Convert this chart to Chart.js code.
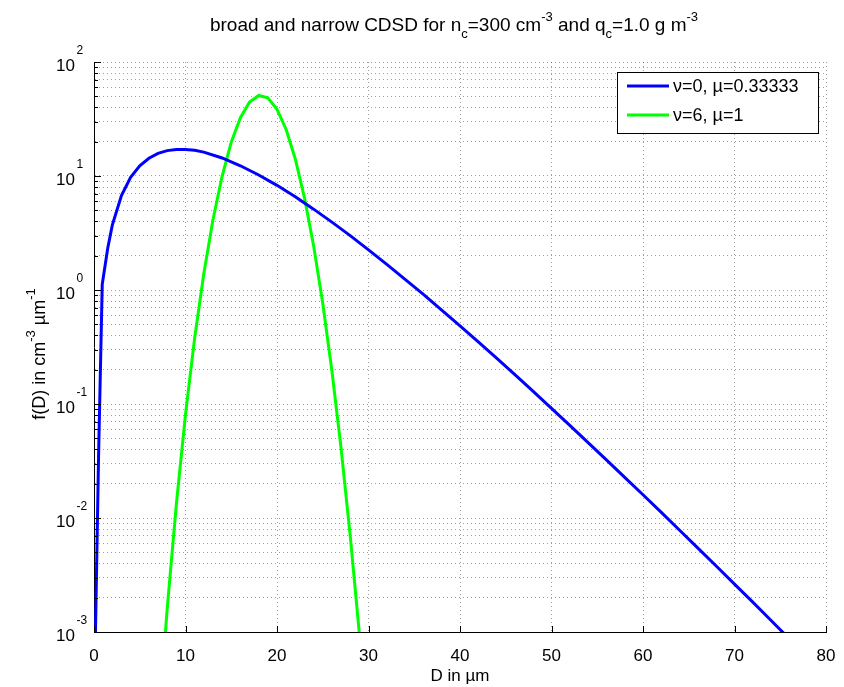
<!DOCTYPE html>
<html>
<head>
<meta charset="utf-8">
<script src="https://cdn.jsdelivr.net/npm/chart.js@4.4.0/dist/chart.umd.min.js"></script>
<style>
  html, body { margin: 0; padding: 0; background: #fff; }
  canvas { display: block; }
</style>
</head>
<body>
<canvas id="chart" width="844" height="687"></canvas>
<script>
// broad CDSD (nu=0, mu=1/3): D in um, f(D) in cm^-3 um^-1
const diameterBroad = [0.15, 0.5, 0.9, 1.5, 2, 3, 4, 5, 6, 7, 8, 9, 10, 11, 12, 14, 16, 18, 20,
  22, 24, 26, 28, 30, 32, 34, 36, 38, 40, 42, 44, 46, 48, 50, 52, 54, 56, 58, 60,
  62, 64, 66, 68, 70, 72, 74, 76];
const fBroad = [0.0009, 0.035, 1.12, 2.32, 3.71, 6.75, 9.72, 12.3, 14.3, 15.8, 16.7, 17.1, 17.1, 16.8, 16.2, 14.4, 12.3, 10.2, 8.28,
  6.57, 5.12, 3.94, 3.00, 2.25, 1.68, 1.24, 0.914, 0.667, 0.485, 0.350, 0.252, 0.181, 0.129, 0.0916, 0.0650, 0.0459, 0.0323, 0.0227, 0.0160,
  0.0112, 0.00781, 0.00544, 0.00379, 0.00263, 0.00183, 0.00126, 0.00087];

// narrow CDSD (nu=6, mu=1)
const diameterNarrow = [7, 8, 9, 10, 11, 12, 13, 14, 15, 16, 17, 18, 19, 20, 21, 22, 23, 24, 25, 26, 27, 28, 29, 30];
const fNarrow = [0.000133, 0.0016, 0.0132, 0.081, 0.379, 1.39, 4.13, 9.95, 19.8, 32.5, 44.5, 50.9, 48.5, 38.5,
  25.6, 14.1, 6.46, 2.45, 0.764, 0.196, 0.0411, 0.00701, 0.00097, 0.000108];

const seriesLabels = ['\u03bd=0, \u00b5=0.33333', '\u03bd=6, \u00b5=1'];
const seriesColors = ['#0000ff', '#00ff00'];
const xTicks = [0, 10, 20, 30, 40, 50, 60, 70, 80];
const yDecades = [-3, -2, -1, 0, 1, 2];
const yMinor = [2, 3, 4, 5, 6, 7, 8, 9];

const FONT = "'Liberation Sans', Arial, Helvetica, sans-serif";
const gridColor = 'rgba(0,0,0,0.38)';

// text made of normal / sup / sub pieces
function richWidth(ctx, parts, size) {
  let w = 0;
  parts.forEach(p => {
    ctx.font = (p[1] ? Math.round(size * 0.7) : size) + 'px ' + FONT;
    w += ctx.measureText(p[0]).width;
  });
  return w;
}
function drawRich(ctx, parts, x, y, size) {
  parts.forEach(p => {
    const small = Math.round(size * 0.7);
    ctx.font = (p[1] ? small : size) + 'px ' + FONT;
    let dy = 0;
    if (p[1] === 'sup') dy = -size * 0.55;
    if (p[1] === 'sub') dy = size * 0.35;
    ctx.fillText(p[0], x, y + dy);
    x += ctx.measureText(p[0]).width;
  });
}

const titleParts = [['broad and narrow CDSD for n'], ['c', 'sub'], ['=300 cm'], ['-3', 'sup'],
  [' and q'], ['c', 'sub'], ['=1.0 g m'], ['-3', 'sup']];
const yTitleParts = [['f(D) in cm'], ['-3', 'sup'], [' \u00b5m'], ['-1', 'sup']];

const decorations = {
  id: 'decorations',
  afterDraw(chart) {
    const { ctx, chartArea: a, scales: { x, y } } = chart;
    ctx.save();
    ctx.fillStyle = '#000';
    ctx.strokeStyle = '#000';
    ctx.lineWidth = 1;

    // inward tick marks
    ctx.beginPath();
    xTicks.forEach(v => {
      const px = Math.round(x.getPixelForValue(v)) + 0.5;
      ctx.moveTo(px, a.bottom);
      ctx.lineTo(px, a.bottom - 6);
    });
    y.ticks.forEach(t => {
      const py = Math.round(y.getPixelForValue(t.value)) + 0.5;
      const major = Math.abs(Math.log10(t.value) - Math.round(Math.log10(t.value))) < 1e-9;
      ctx.moveTo(a.left, py);
      ctx.lineTo(a.left + (major ? 7 : 4), py);
    });
    ctx.stroke();

    // y tick labels 10^n
    ctx.textBaseline = 'alphabetic';
    yDecades.forEach(n => {
      const py = y.getPixelForValue(Math.pow(10, n));
      ctx.font = '17px ' + FONT;
      ctx.textAlign = 'right';
      ctx.fillText('10', 75, py + 9);
      ctx.font = '12px ' + FONT;
      ctx.textAlign = 'left';
      ctx.fillText(String(n), 76.5, py - 8);
    });

    // title
    ctx.textAlign = 'left';
    const tSize = 19;
    const tw = richWidth(ctx, titleParts, tSize);
    drawRich(ctx, titleParts, 454 - tw / 2, 31, tSize);

    // x axis title
    ctx.font = '17px ' + FONT;
    ctx.textAlign = 'center';
    ctx.fillText('D in \u00b5m', (a.left + a.right) / 2, 681);

    // y axis title (rotated)
    ctx.save();
    ctx.translate(45, 354);
    ctx.rotate(-Math.PI / 2);
    ctx.textAlign = 'left';
    const yw = richWidth(ctx, yTitleParts, 18);
    drawRich(ctx, yTitleParts, -yw / 2, 0, 18);
    ctx.restore();

    // legend box
    const lx = 617, ly = 72, lw = 201, lh = 61;
    ctx.fillStyle = '#fff';
    ctx.fillRect(lx, ly, lw, lh);
    ctx.strokeRect(lx + 0.5, ly + 0.5, lw, lh);
    ctx.lineWidth = 3;
    ctx.textAlign = 'left';
    ctx.textBaseline = 'middle';
    ctx.font = '18px ' + FONT;
    [86, 115].forEach((ry, i) => {
      ctx.strokeStyle = seriesColors[i];
      ctx.beginPath();
      ctx.moveTo(627, ry);
      ctx.lineTo(669, ry);
      ctx.stroke();
      ctx.fillStyle = '#000';
      ctx.fillText(seriesLabels[i], 673, ry + 1);
    });
    ctx.restore();
  }
};

const data = {
  datasets: [
    {
      label: seriesLabels[0],
      data: diameterBroad.map((d, i) => ({ x: d, y: fBroad[i] })),
      borderColor: seriesColors[0],
      borderWidth: 3,
      pointRadius: 0,
      fill: false,
      tension: 0
    },
    {
      label: seriesLabels[1],
      data: diameterNarrow.map((d, i) => ({ x: d, y: fNarrow[i] })),
      borderColor: seriesColors[1],
      borderWidth: 3,
      pointRadius: 0,
      fill: false,
      tension: 0
    }
  ]
};

const options = {
  responsive: false,
  animation: false,
  layout: { padding: { top: 62, right: 18, left: 0, bottom: 0 } },
  plugins: {
    legend: { display: false },
    title: { display: false },
    tooltip: { enabled: false }
  },
  scales: {
    x: {
      type: 'linear',
      min: 0,
      max: 80,
      afterBuildTicks: s => { s.ticks = xTicks.map(v => ({ value: v })); },
      afterFit: s => { s.height = 55; s.paddingLeft = 0; s.paddingRight = 0; },
      ticks: { color: '#000', font: { family: FONT, size: 17 }, padding: 14, maxRotation: 0 },
      grid: { color: gridColor, drawTicks: false },
      border: { display: true, color: '#000', dash: [1, 3] }
    },
    y: {
      type: 'logarithmic',
      min: 1e-3,
      max: 1e2,
      afterBuildTicks: s => {
        const ticks = [];
        yDecades.forEach(n => {
          ticks.push({ value: Math.pow(10, n) });
          if (n < 2) yMinor.forEach(m => ticks.push({ value: m * Math.pow(10, n) }));
        });
        s.ticks = ticks;
      },
      afterFit: s => { s.width = 94; s.paddingTop = 0; s.paddingBottom = 0; },
      ticks: { display: false },
      grid: { color: gridColor, drawTicks: false },
      border: { display: true, color: '#000', dash: [1, 3] }
    }
  }
};

const ctx = document.getElementById('chart');
const myChart = new Chart(ctx, {
  type: 'line',
  data: data,
  options: options,
  plugins: [decorations]
});
</script>
</body>
</html>
